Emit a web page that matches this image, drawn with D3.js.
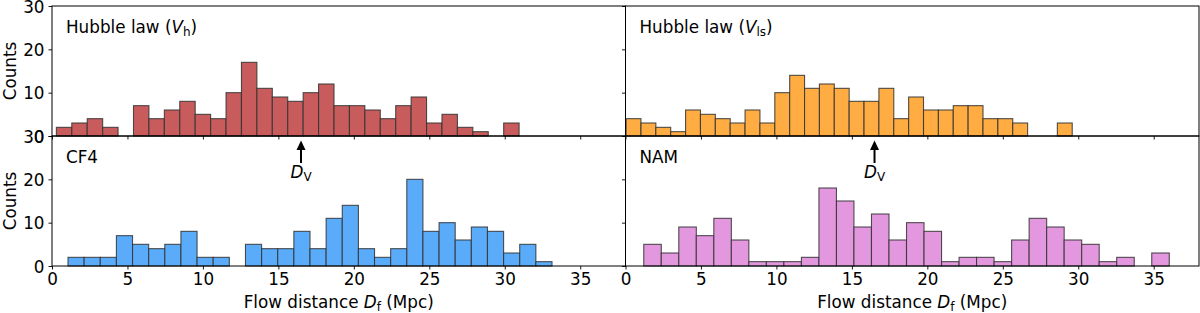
<!DOCTYPE html>
<html>
<head>
<meta charset="utf-8">
<script src="https://cdn.jsdelivr.net/npm/d3@7"></script>
<style>
body{margin:0;background:#fff;}
svg{display:block;font-family:"DejaVu Sans",sans-serif;}
.axis path,.axis line{stroke:#000;stroke-width:0.9;}
.axis text{font-size:16.8px;fill:#000;font-family:"DejaVu Sans",sans-serif;}
</style>
</head>
<body>
<svg id="vis" width="1200" height="313"></svg>
<script>
// histogram counts, 30 bins each
var vhCounts=[2,3,4,2,0,7,4,6,8,5,4,10,17,11,9,8,10,12,7,7,6,4,7,9,3,5,2,1,0,3];
var vlsCounts=[4,3,2,1,6,5,4,3,6,3,10,14,11,12,11,8,8,11,4,9,6,6,7,7,4,4,3,0,0,3];
var cf4Counts=[2,2,2,7,5,4,5,8,2,2,0,5,4,4,8,4,11,14,4,2,4,20,8,10,6,9,8,3,5,1];
var namCounts=[5,3,9,7,11,6,1,1,1,2,18,15,9,12,6,10,8,1,2,2,1,6,11,9,6,5,1,2,0,3];
// data range of each histogram (Mpc)
var vhRange=[0.29,30.95];
var vlsRange=[0.04,29.6];
var cf4Range=[1.06,33.13];
var namRange=[1.21,36.03];
var xTicks=[0,5,10,15,20,25,30,35];
var yTicks=[0,10,20,30];
var dV=16.5;

var panels=[
	{counts:vhCounts,range:vhRange,col:0,row:0,fill:"#c85b5b",name:"Hubble law (",sym:"V",sub:"h",tail:")"},
	{counts:vlsCounts,range:vlsRange,col:1,row:0,fill:"#ffac42",name:"Hubble law (",sym:"V",sub:"ls",tail:")"},
	{counts:cf4Counts,range:cf4Range,col:0,row:1,fill:"#5aacfa",name:"CF4"},
	{counts:namCounts,range:namRange,col:1,row:1,fill:"#e397df",name:"NAM"}
];

var svgm=d3.select("svg#vis");
var padLeft=52, pw=573.5, padTop=6, ph=130;
var fs="16.8px", subfs="12px";

panels.forEach(function(p){
	var x0=padLeft+p.col*pw, y0=padTop+p.row*ph;
	var x=d3.scaleLinear().domain([0,38]).range([x0,x0+pw]);
	var y=d3.scaleLinear().domain([0,30]).range([y0+ph,y0]);
	var g=svgm.append("g");
	var bw=(p.range[1]-p.range[0])/p.counts.length;
	g.selectAll("rect.bar").data(p.counts).enter()
		.append("rect")
		.attr("class","bar")
		.attr("x",function(d,i){return x(p.range[0]+i*bw);})
		.attr("width",function(d,i){return x(p.range[0]+(i+1)*bw)-x(p.range[0]+i*bw);})
		.attr("y",function(d){return y(d);})
		.attr("height",function(d){return y(0)-y(d);})
		.attr("fill",function(d){return d>0?p.fill:"none";})
		.attr("stroke",function(d){return d>0?"#333":"none";})
		.attr("stroke-opacity",0.85)
		.attr("stroke-width",1.1);

	// frame
	g.append("rect").attr("x",x0).attr("y",y0).attr("width",pw).attr("height",ph)
		.attr("fill","none").attr("stroke","#000").attr("stroke-width",1);

	var xa=d3.axisBottom(x).tickValues(xTicks).tickSize(3.5).tickSizeOuter(0).tickPadding(4);
	if(p.row==0) xa.tickFormat("");
	var xg=g.append("g").attr("class","axis").attr("transform","translate(0,"+(y0+ph)+")").call(xa);
	xg.select(".domain").remove();

	var ya=d3.axisLeft(y).tickValues(yTicks).tickSize(3.5).tickSizeOuter(0).tickPadding(4);
	if(p.col==1) ya.tickFormat("");
	var yg=g.append("g").attr("class","axis").attr("transform","translate("+x0+",0)").call(ya);
	yg.select(".domain").remove();
	yg.selectAll("text").attr("dy","0.36em");

	// panel label
	var t=g.append("text").attr("x",x0+14).attr("y",y0+27)
		.attr("font-size",fs).attr("fill","#000").text(p.name);
	if(p.sym){
		t.append("tspan").attr("font-style","italic").text(p.sym);
		t.append("tspan").attr("font-size",subfs).attr("dy","3").text(p.sub);
		t.append("tspan").attr("dy","-3").text(p.tail);
	}

	if(p.row==1){
		// D_V arrow below the shared edge
		var ax=x(dV);
		g.append("line").attr("x1",ax).attr("x2",ax).attr("y1",y0+27).attr("y2",y0+12)
			.attr("stroke","#000").attr("stroke-width",2);
		g.append("path").attr("d","M"+(ax-4.5)+","+(y0+14)+"L"+ax+","+(y0+4.5)+"L"+(ax+4.5)+","+(y0+14)+"Z")
			.attr("fill","#000");
		var dt=g.append("text").attr("x",ax).attr("y",y0+42).attr("text-anchor","middle")
			.attr("font-size",fs);
		dt.append("tspan").attr("font-style","italic").text("D");
		dt.append("tspan").attr("font-size",subfs).attr("dy","3").text("V");

		var xl=g.append("text").attr("x",x0+pw/2).attr("y",y0+ph+42).attr("text-anchor","middle")
			.attr("font-size",fs).text("Flow distance ");
		xl.append("tspan").attr("font-style","italic").text("D");
		xl.append("tspan").attr("font-size",subfs).attr("dy","3").text("f");
		xl.append("tspan").attr("dy","-3").text(" (Mpc)");
	}
	if(p.col==0){
		g.append("text").attr("transform","translate(16,"+(y0+ph/2)+") rotate(-90)")
			.attr("text-anchor","middle").attr("font-size",fs).text("Counts");
	}
});
</script>
</body>
</html>
